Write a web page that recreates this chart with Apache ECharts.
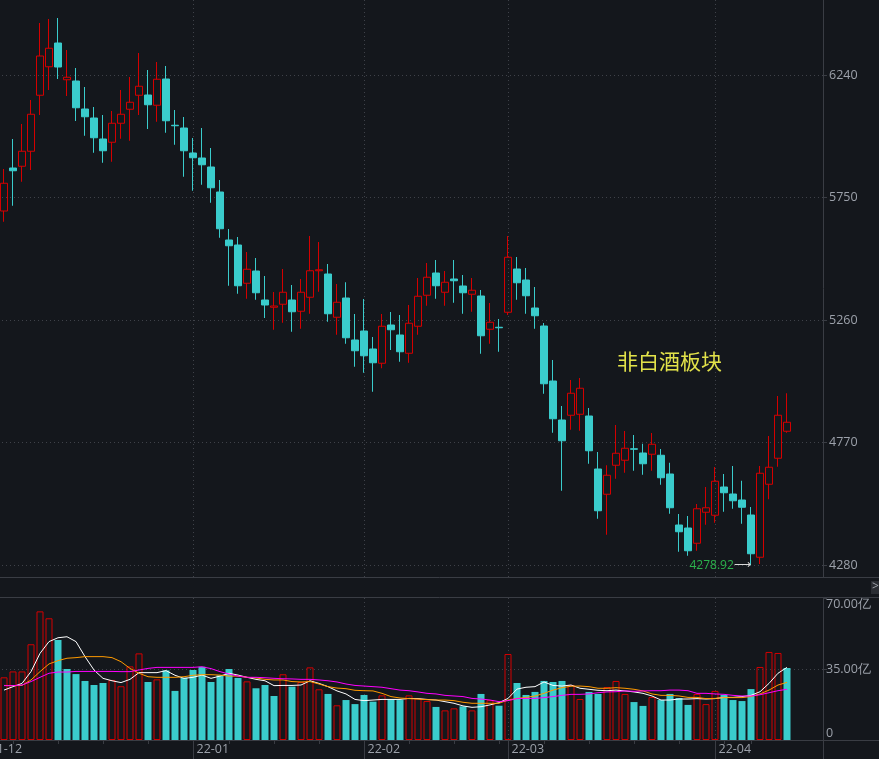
<!DOCTYPE html>
<html>
<head>
<meta charset="utf-8">
<script src="https://cdn.jsdelivr.net/npm/echarts@6/dist/echarts.min.js"></script>
<style>
html,body{margin:0;padding:0;background:#14171c;}
#c{width:879px;height:759px;}
</style>
</head>
<body>
<div id="c"></div>
<script>
// ---- categories (trading days; first two and last four carry no data) ----
const dates = [
 '21-12-01','21-12-02','21-12-03','21-12-06','21-12-07','21-12-08','21-12-09','21-12-10','21-12-13','21-12-14','21-12-15','21-12-16','21-12-17','21-12-20','21-12-21','21-12-22','21-12-23','21-12-24','21-12-27','21-12-28','21-12-29','21-12-30','21-12-31',
 '22-01-04','22-01-05','22-01-06','22-01-07','22-01-10','22-01-11','22-01-12','22-01-13','22-01-14','22-01-17','22-01-18','22-01-19','22-01-20','22-01-21','22-01-24','22-01-25','22-01-26','22-01-27','22-01-28',
 '22-02-07','22-02-08','22-02-09','22-02-10','22-02-11','22-02-14','22-02-15','22-02-16','22-02-17','22-02-18','22-02-21','22-02-22','22-02-23','22-02-24','22-02-25','22-02-28',
 '22-03-01','22-03-02','22-03-03','22-03-04','22-03-07','22-03-08','22-03-09','22-03-10','22-03-11','22-03-14','22-03-15','22-03-16','22-03-17','22-03-18','22-03-21','22-03-22','22-03-23','22-03-24','22-03-25','22-03-28','22-03-29','22-03-30','22-03-31',
 '22-04-01','22-04-06','22-04-07','22-04-08','22-04-11','22-04-12','22-04-13','22-04-14','22-04-15','22-04-18','22-04-19','22-04-20','22-04-21'
];
const firstDataDate = '21-12-03';

// ---- price series (from 21-12-03) ----
const open = [5696,5868,5875,5935,6159,6273,6368,6221,6216,6104,6068,5984,5971,6047,6103,6159,6160,6119,6224,6039,6028,5928,5908,5872,5772,5580,5560,5407,5456,5340,5311,5323,5340,5295,5351,5457,5444,5271,5348,5180,5216,5144,5087,5240,5200,5127,5235,5359,5448,5371,5424,5396,5363,5356,5223,5231,5291,5464,5420,5308,5236,5016,4860,4879,4883,4876,4664,4563,4679,4699,4745,4728,4723,4719,4644,4440,4428,4367,4491,4479,4592,4564,4540,4480,4311,4603,4707,4815];
const close = [5807,5857,5935,6083,6316,6347,6272,6231,6109,6073,5989,5937,6047,6083,6131,6195,6121,6223,6057,6037,5937,5909,5881,5789,5625,5557,5397,5463,5369,5320,5316,5371,5293,5371,5457,5461,5285,5331,5189,5137,5117,5089,5235,5221,5133,5247,5355,5431,5397,5411,5417,5369,5379,5197,5251,5229,5511,5409,5357,5277,5005,4865,4777,4967,4987,4737,4497,4639,4727,4747,4743,4685,4763,4629,4509,4413,4337,4505,4509,4615,4569,4537,4511,4325,4647,4671,4879,4851];
const low = [5653,5717,5813,5860,6080,6180,6224,6156,6056,5997,5929,5889,5893,5985,5977,6080,6024,6053,6009,5961,5833,5777,5801,5729,5589,5397,5365,5345,5341,5268,5221,5249,5213,5225,5285,5373,5253,5201,5165,5073,5049,4973,5067,5140,5093,5089,5201,5317,5345,5317,5329,5285,5293,5125,5165,5133,5280,5341,5285,5225,4965,4809,4577,4821,4817,4685,4465,4401,4625,4649,4657,4641,4657,4601,4485,4333,4317,4337,4441,4449,4493,4505,4445,4278.92,4284,4543,4673,4809];
const high = [5864,5984,6044,6140,6448,6464,6468,6340,6268,6192,6112,6080,6096,6180,6232,6328,6260,6292,6276,6100,6072,5988,6028,5948,5820,5624,5592,5532,5508,5436,5372,5464,5400,5424,5596,5572,5484,5404,5411,5284,5344,5192,5284,5292,5280,5320,5428,5488,5500,5456,5500,5440,5428,5380,5328,5264,5596,5512,5468,5392,5248,5100,4916,5020,5028,4908,4732,4679,4840,4816,4800,4765,4808,4744,4689,4484,4476,4524,4592,4672,4644,4676,4617,4512,4676,4796,4956,4967];

// ---- turnover (亿) and its moving averages ----
const volume = [30.9,33.8,33.8,47.2,63.4,60.0,49.3,35.0,32.5,29.1,27.1,28.1,29.6,26.5,36.3,42.7,28.6,29.9,34.3,24.2,30.7,34.5,36.1,28.6,31.9,35.0,30.6,28.9,25.5,27.1,21.7,32.4,26.3,28.6,35.8,25.0,22.7,17.1,19.7,17.7,22.2,18.9,22.0,20.0,19.7,22.0,20.5,19.2,16.3,14.6,15.6,16.6,14.6,22.7,19.6,16.9,42.4,28.1,22.2,23.7,29.1,28.6,29.1,27.1,20.2,23.7,22.7,26.1,29.1,22.7,18.7,16.8,21.2,19.7,22.7,20.7,17.3,22.7,17.7,24.2,22.2,19.7,19.2,25.1,36.0,43.4,42.9,35.5];
const ma5 = [24.6,26.3,27.9,33.7,42.7,48.5,50.4,50.9,48.5,41.1,34.5,30.4,29.2,28.3,29.9,33.2,33.2,33.2,34.2,31.9,30.4,30.9,32.0,30.4,31.5,32.9,32.0,30.9,29.9,29.2,26.8,26.9,26.9,27.1,29.2,27.9,26.3,24.2,22.7,20.0,19.4,19.7,20.0,20.0,20.0,20.5,20.4,20.0,19.7,18.9,18.1,16.8,16.1,16.4,17.3,18.4,20.5,25.1,26.0,26.3,28.6,26.9,26.6,27.1,25.5,25.0,24.5,24.3,24.6,24.2,23.7,23.0,21.7,19.7,19.7,20.2,20.2,20.4,20.2,20.4,21.0,21.0,21.4,22.0,23.8,27.9,32.9,35.8];
const ma10 = [26.9,26.8,26.9,29.6,33.7,37.5,39.1,40.3,40.6,41.1,41.1,41.1,40.6,38.6,35.3,32.9,31.2,30.9,30.9,30.9,31.2,31.9,32.2,32.2,32.0,31.5,31.5,30.9,30.6,29.9,29.6,29.6,28.8,28.6,28.8,27.6,26.3,25.6,25.3,24.5,24.3,24.2,23.0,21.4,20.7,20.4,20.2,19.9,19.7,19.7,19.4,18.6,18.1,18.1,18.1,18.1,19.7,20.5,21.0,21.7,23.0,24.6,25.8,26.5,26.6,26.3,25.5,25.5,25.8,25.5,25.0,24.2,22.7,22.0,22.0,21.7,21.0,21.0,20.4,20.5,20.9,20.9,20.9,21.4,22.7,24.6,27.1,28.4];
const ma20 = [26.8,26.8,27.1,28.8,30.9,32.9,33.5,33.5,33.8,33.8,33.8,33.8,33.8,33.7,33.7,34.5,35.3,35.8,35.8,35.8,35.8,35.8,36.1,35.2,33.7,32.5,31.5,30.9,30.9,30.7,30.4,30.2,30.1,29.9,29.9,29.6,29.2,28.6,27.6,26.9,26.6,26.3,26.0,25.3,24.6,24.3,23.7,23.0,22.7,22.0,21.7,21.4,20.5,20.2,19.7,18.9,19.4,20.4,20.5,20.5,20.9,21.4,22.0,22.5,22.5,22.7,23.3,23.7,23.8,24.2,24.0,24.2,24.3,24.3,24.6,24.6,24.3,23.0,23.0,22.7,22.5,22.0,21.7,21.7,22.3,23.3,24.3,25.0];

// ---- axis ticks ----
const priceTicks = [4280, 4770, 5260, 5750, 6240];
const volTicks = [0, 35, 70];
const chartTitle = '非白酒板块';

// ---- styling ----
const BG = '#14171c', UP = '#d40000', DOWN = '#3acccc', GRID = '#3f4249', FRAME = '#3a3d44', TXT = '#9ca1aa';

const lead = dates.indexOf(firstDataDate);
const n = open.length;
function pad(arr) {
  const out = [];
  for (let i = 0; i < dates.length; i++) {
    const j = i - lead;
    out.push(j >= 0 && j < arr.length ? arr[j] : null);
  }
  return out;
}
const candleData = dates.map((d, i) => {
  const j = i - lead;
  if (j < 0 || j >= n) return '-';
  return [open[j], close[j], low[j], high[j]];
});
const volData = dates.map((d, i) => {
  const j = i - lead;
  if (j < 0 || j >= n) return '-';
  const rising = j === 0 ? true : close[j] >= close[j - 1];
  return {
    value: volume[j],
    itemStyle: rising ? { color: 'transparent', borderColor: UP, borderWidth: 1 }
                      : { color: DOWN, borderColor: DOWN, borderWidth: 0 }
  };
});

const monthStart = (i) => i === 0 || dates[i].slice(0, 5) !== dates[i - 1].slice(0, 5);
function weekNo(s) {
  const t = Date.UTC(2000 + +s.slice(0, 2), +s.slice(3, 5) - 1, +s.slice(6, 8)) / 86400000;
  return Math.floor((t + 3) / 7);
}
const weekStart = (i) => i > 0 && i < lead + n && weekNo(dates[i]) !== weekNo(dates[i - 1]);

const chart = echarts.init(document.getElementById('c'), null, { renderer: 'canvas' });
const dotted = { color: GRID, width: 1, type: [1, 3] };
const font = 'Open Sans';

chart.setOption({
  backgroundColor: BG,
  animation: false,
  title: {
    text: chartTitle, left: 617, top: 351, padding: 0,
    textStyle: { color: '#e2e24a', fontSize: 21, fontWeight: 'normal', fontFamily: 'Noto Sans CJK SC' }
  },
  grid: [
    { left: -14, right: 56, top: 0, height: 577, containLabel: false, outerBoundsMode: 'none' },
    { left: -14, right: 56, top: 598, height: 142, containLabel: false, outerBoundsMode: 'none' }
  ],
  xAxis: [
    {
      type: 'category', gridIndex: 0, data: dates, boundaryGap: false,
      axisLine: { show: false }, axisTick: { show: false }, axisLabel: { show: false },
      splitLine: { show: true, interval: (i) => monthStart(i), lineStyle: dotted }
    },
    {
      type: 'category', gridIndex: 1, data: dates, boundaryGap: false, position: 'bottom',
      axisLine: { show: false },
      axisTick: { show: true, interval: (i) => weekStart(i), length: 4, lineStyle: { color: FRAME } },
      axisLabel: {
        show: true, interval: (i) => monthStart(i), formatter: (v) => v.slice(0, 5),
        align: 'left', padding: [0, 0, 0, 3.5], margin: 3,
        color: TXT, fontSize: 12.5, fontFamily: font
      },
      splitLine: { show: true, interval: (i) => monthStart(i), lineStyle: dotted }
    },
    {
      type: 'category', gridIndex: 1, data: dates, boundaryGap: false, position: 'bottom',
      axisLine: { show: false }, axisLabel: { show: false }, splitLine: { show: false },
      axisTick: { show: true, interval: (i) => monthStart(i) && i > 0, length: 19, lineStyle: { color: FRAME } }
    }
  ],
  yAxis: [
    {
      type: 'value', gridIndex: 0, position: 'right', min: 4232, max: 6540, scale: true,
      axisLine: { show: true, lineStyle: { color: FRAME } },
      axisTick: { show: true, length: 4, customValues: priceTicks, lineStyle: { color: FRAME } },
      axisLabel: { show: true, customValues: priceTicks, formatter: (v) => String(v), margin: 6, color: TXT, fontSize: 12.5, fontFamily: font },
      splitLine: { show: true, lineStyle: dotted }
    },
    {
      type: 'value', gridIndex: 1, position: 'right', min: volTicks[0], max: volTicks[2], interval: volTicks[1],
      axisLine: { show: true, lineStyle: { color: FRAME } },
      axisTick: { show: true, length: 4, lineStyle: { color: FRAME } },
      axisLabel: {
        show: true, margin: 3, color: TXT, fontSize: 12.5, fontFamily: font,
        formatter: (v) => v === 0 ? '0' : v.toFixed(2) + '亿',
        verticalAlignMinLabel: 'bottom', verticalAlignMaxLabel: 'top'
      },
      splitLine: { show: true, showMinLine: false, showMaxLine: false, lineStyle: dotted }
    }
  ],
  graphic: [
    { type: 'line', shape: { x1: 0, y1: 577.5, x2: 879, y2: 577.5 }, style: { stroke: FRAME, lineWidth: 1 }, silent: true },
    { type: 'line', shape: { x1: 0, y1: 597.5, x2: 879, y2: 597.5 }, style: { stroke: FRAME, lineWidth: 1 }, silent: true },
    { type: 'line', shape: { x1: 0, y1: 740.5, x2: 879, y2: 740.5 }, style: { stroke: FRAME, lineWidth: 1 }, silent: true },
    { type: 'line', shape: { x1: 823.5, y1: 740, x2: 823.5, y2: 759 }, style: { stroke: FRAME, lineWidth: 1 }, silent: true },
    { type: 'rect', shape: { x: 871, y: 581, width: 9, height: 13 }, style: { fill: '#2a2d33' }, silent: true },
    { type: 'text', x: 872, y: 581, style: { text: '>', fill: '#a0a4ab', fontSize: 12, fontFamily: font }, silent: true }
  ],
  series: [
    {
      type: 'candlestick', xAxisIndex: 0, yAxisIndex: 0, data: candleData, barWidth: 7,
      itemStyle: { color: 'transparent', borderColor: UP, color0: DOWN, borderColor0: DOWN, borderWidth: 1 },
      markPoint: {
        symbol: 'circle', symbolSize: 0,
        data: [{ type: 'min', valueDim: 'lowest' }],
        label: {
          show: true, position: 'left', distance: 0,
          formatter: (p) => '{v|' + p.value.toFixed(2) + '}{a|⟶}',
          rich: {
            v: { color: '#2bb24c', fontSize: 12, fontFamily: font },
            a: { color: '#d8d8d8', fontSize: 12, fontFamily: 'DejaVu Sans' }
          }
        }
      }
    },
    {
      type: 'bar', xAxisIndex: 1, yAxisIndex: 1, data: volData, barWidth: 7
    },
    { type: 'line', xAxisIndex: 1, yAxisIndex: 1, data: pad(ma5), showSymbol: false, lineStyle: { color: '#ffffff', width: 1 }, itemStyle: { color: '#ffffff' } },
    { type: 'line', xAxisIndex: 1, yAxisIndex: 1, data: pad(ma10), showSymbol: false, lineStyle: { color: '#ff9a00', width: 1 }, itemStyle: { color: '#ff9a00' } },
    { type: 'line', xAxisIndex: 1, yAxisIndex: 1, data: pad(ma20), showSymbol: false, lineStyle: { color: '#ff00ff', width: 1 }, itemStyle: { color: '#ff00ff' } }
  ]
});
</script>
</body>
</html>
